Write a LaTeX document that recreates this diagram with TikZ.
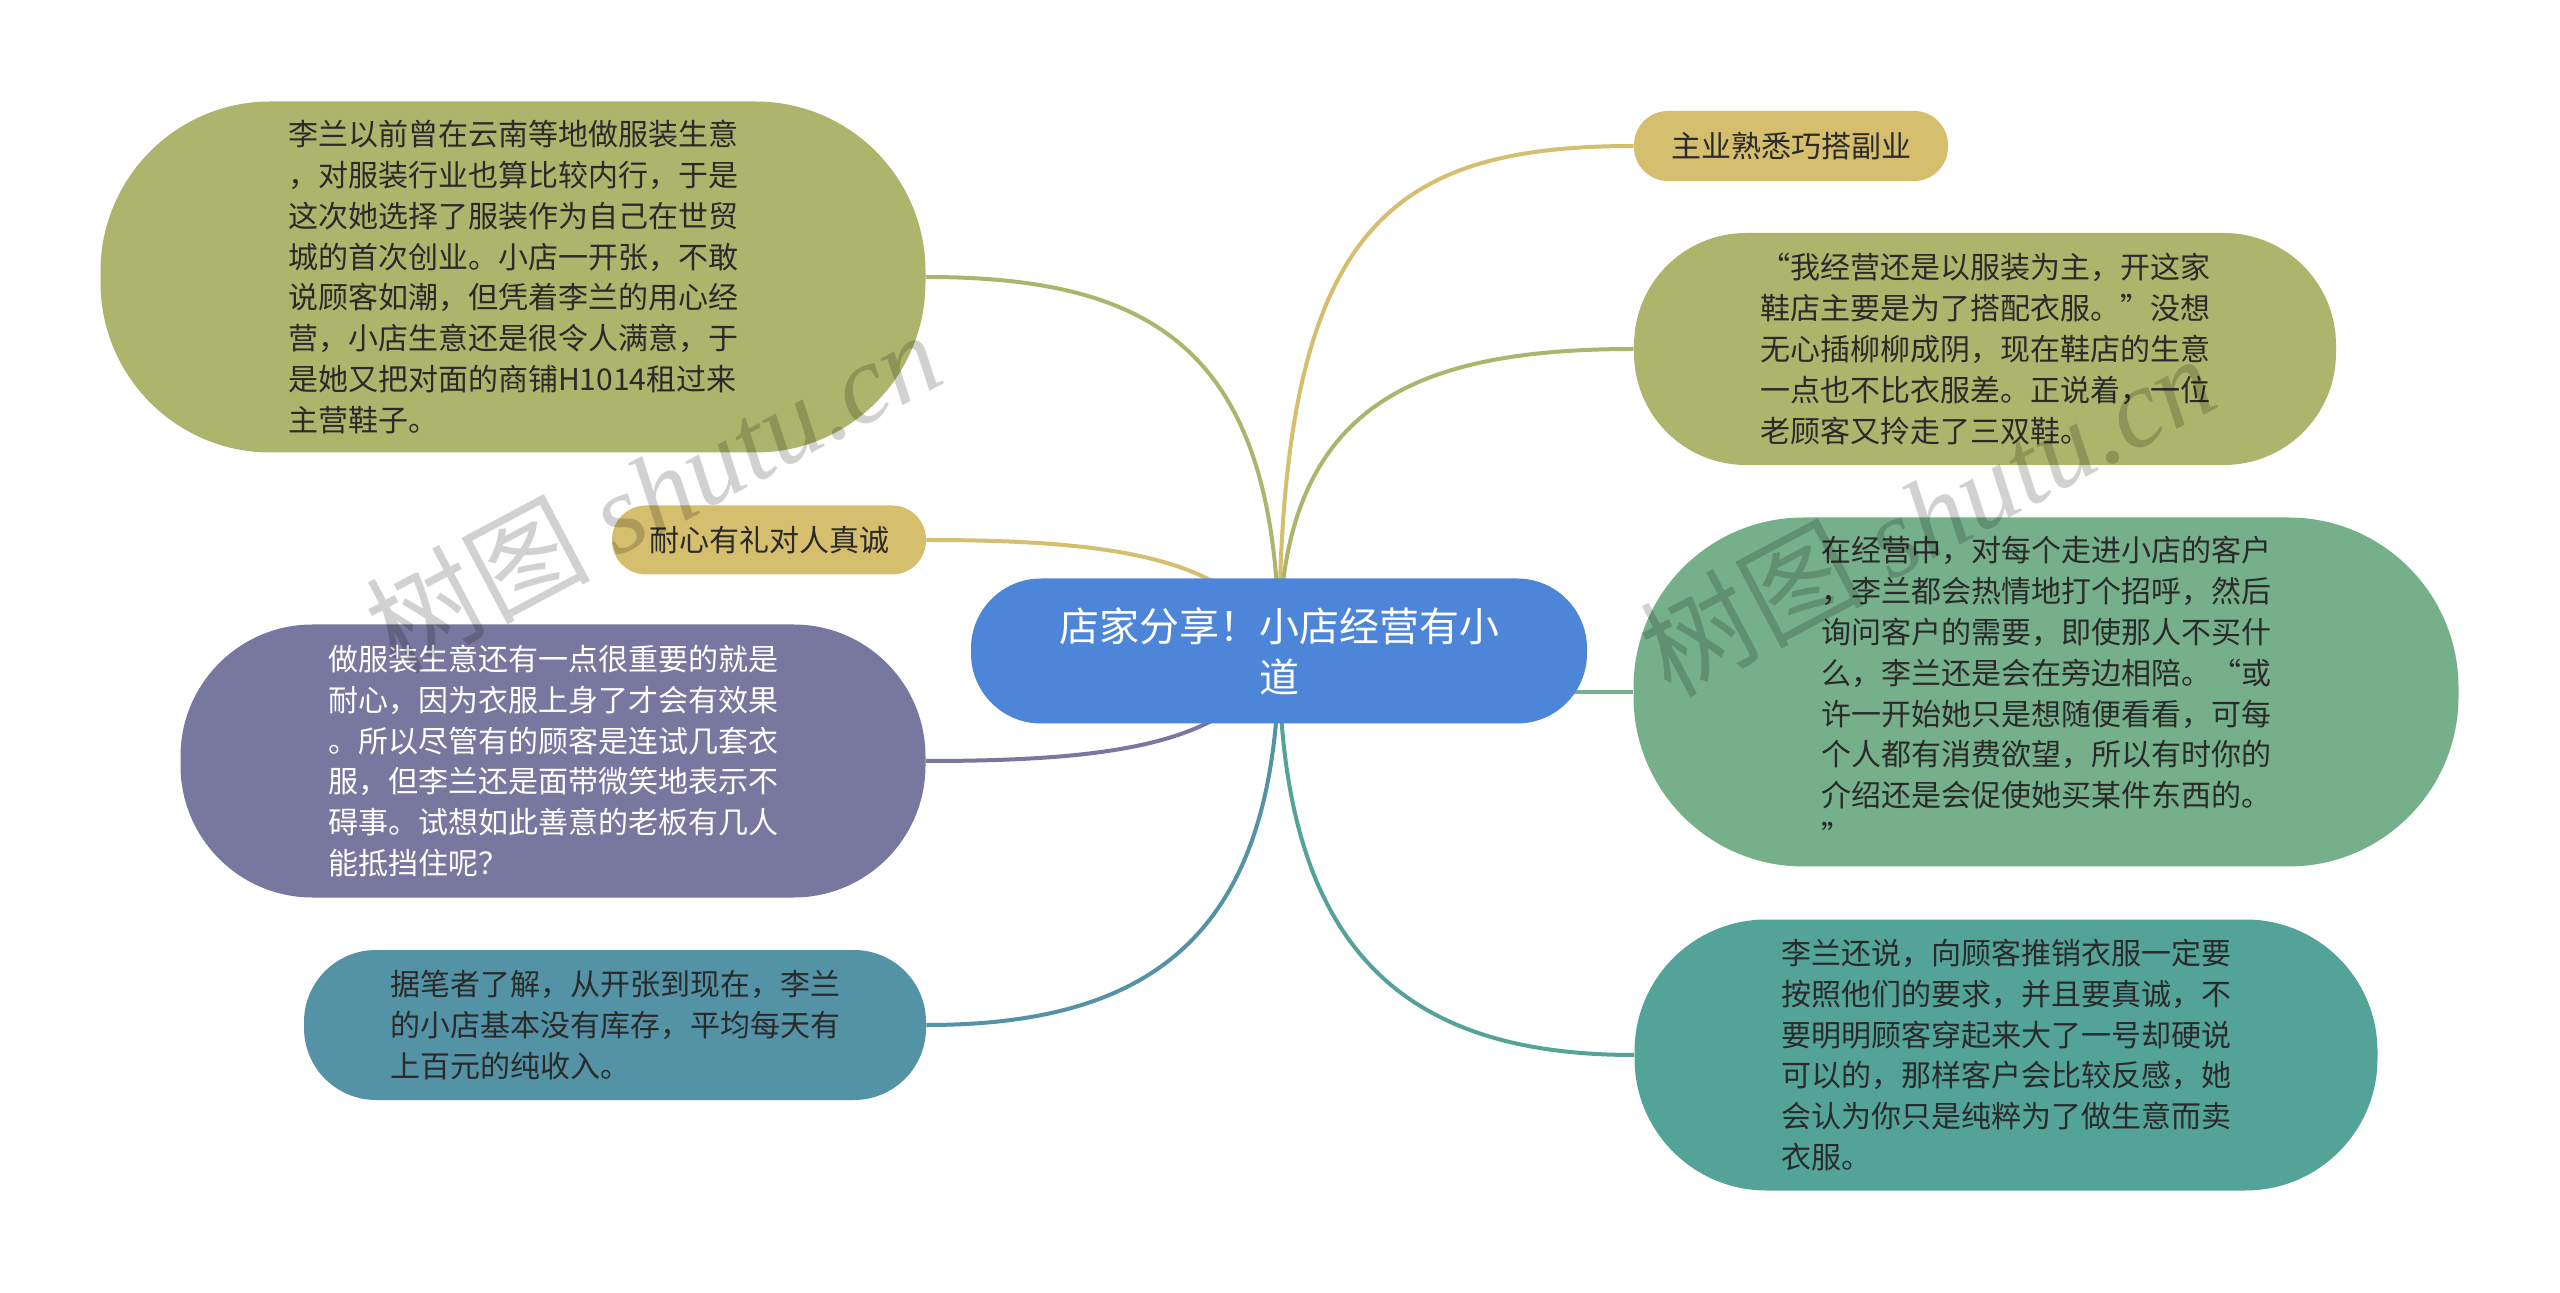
\documentclass[tikz,border=0pt]{standalone}
\usepackage{fontspec}
\setmainfont{Noto Sans CJK SC}
\newfontfamily\wmfont{Liberation Serif}
\usetikzlibrary{backgrounds}
\definecolor{cOlive}{HTML}{ADB56C}
\definecolor{cGold}{HTML}{D5BE6D}
\definecolor{cBlue}{HTML}{4D86D9}
\definecolor{cPurple}{HTML}{78779F}
\definecolor{cSteel}{HTML}{5493A5}
\definecolor{cGreen}{HTML}{76B08A}
\definecolor{cTeal}{HTML}{54A398}
\definecolor{cText}{HTML}{2A2A2A}
\begin{document}
\begin{tikzpicture}[x=0.5pt,y=-0.5pt,
  bubble/.style={draw=none, inner sep=0pt, align=left, text=cText,
    font=\fontsize{15pt}{20.4pt}\selectfont},
  conn/.style={line width=2pt},
  wm/.style={text=black, text opacity=0.18, rotate=28,
    font=\fontsize{56pt}{60pt}\selectfont}]
\useasboundingbox (0,0) rectangle (2560,1293);

% central topic
\node[bubble, fill=cBlue, text=white, align=center,
  font=\fontsize{20pt}{25.5pt}\selectfont,
  minimum width=308pt, minimum height=72.5pt, rounded corners=35pt]
  (c) at (1279,651) {店家分享！小店经营有小\\道};

% left branches
\node[bubble, fill=cOlive, minimum width=412.5pt, minimum height=175.5pt,
  rounded corners=85pt] (A) at (513,277)
  {李兰以前曾在云南等地做服装生意\\，对服装行业也算比较内行，于是\\这次她选择了服装作为自己在世贸\\城的首次创业。小店一开张，不敢\\说顾客如潮，但凭着李兰的用心经\\营，小店生意还是很令人满意，于\\是她又把对面的商铺H1014租过来\\主营鞋子。};

\node[bubble, fill=cGold, minimum width=157pt, minimum height=34.5pt,
  rounded corners=17pt] (D) at (769,540) {耐心有礼对人真诚};

\node[bubble, fill=cPurple, text=white, minimum width=372.5pt,
  minimum height=136.5pt, rounded corners=66pt] (E) at (553,761)
  {做服装生意还有一点很重要的就是\\耐心，因为衣服上身了才会有效果\\。所以尽管有的顾客是连试几套衣\\服，但李兰还是面带微笑地表示不\\碍事。试想如此善意的老板有几人\\能抵挡住呢？};

\node[bubble, fill=cSteel, minimum width=311pt, minimum height=75pt,
  rounded corners=36pt] (F) at (615,1025)
  {据笔者了解，从开张到现在，李兰\\的小店基本没有库存，平均每天有\\上百元的纯收入。};

% right branches
\node[bubble, fill=cGold, minimum width=157pt, minimum height=35pt,
  rounded corners=17pt] (B) at (1791,146) {主业熟悉巧搭副业};

\node[bubble, fill=cOlive, minimum width=351pt, minimum height=116pt,
  rounded corners=56pt] (C) at (1985,349)
  {“我经营还是以服装为主，开这家\\鞋店主要是为了搭配衣服。”没想\\无心插柳柳成阴，现在鞋店的生意\\一点也不比衣服差。正说着，一位\\老顾客又拎走了三双鞋。};

\node[bubble, fill=cGreen, minimum width=412.5pt, minimum height=174.5pt,
  rounded corners=85pt] (G) at (2046,692)
  {在经营中，对每个走进小店的客户\\，李兰都会热情地打个招呼，然后\\询问客户的需要，即使那人不买什\\么，李兰还是会在旁边相陪。“或\\许一开始她只是想随便看看，可每\\个人都有消费欲望，所以有时你的\\介绍还是会促使她买某件东西的。\\”};

\node[bubble, fill=cTeal, minimum width=371.5pt, minimum height=135.5pt,
  rounded corners=66pt] (H) at (2006,1055)
  {李兰还说，向顾客推销衣服一定要\\按照他们的要求，并且要真诚，不\\要明明顾客穿起来大了一号却硬说\\可以的，那样客户会比较反感，她\\会认为你只是纯粹为了做生意而卖\\衣服。};

% connectors (behind the nodes)
\begin{scope}[on background layer]
  \fill[white] (0,0) rectangle (2560,1293);
  \draw[conn, cOlive] (c.center) .. controls +(0,-300) and +(230,0) .. (A.east);
  \draw[conn, cGold] (c.center) .. controls +(-40,-90) and +(200,0) .. (D.east);
  \draw[conn, cPurple] (c.center) .. controls +(-40,90) and +(200,0) .. (E.east);
  \draw[conn, cSteel] (c.center) .. controls +(0,280) and +(230,0) .. (F.east);
  \draw[conn, cGold] (c.center) .. controls +(0,-420) and +(-250,0) .. (B.west);
  \draw[conn, cOlive] (c.center) .. controls +(0,-240) and +(-230,0) .. (C.west);
  \draw[conn, cGreen] (G.west -| c.center) -- (G.west);
  \draw[conn, cTeal] (c.center) .. controls +(0,300) and +(-230,0) .. (H.west);
\end{scope}

% watermark
\node[wm] (w1) at (653,490) {树图 {\wmfont\itshape shutu.cn}};
\node[wm] (w2) at (1927,514) {树图 {\wmfont\itshape shutu.cn}};
\end{tikzpicture}
\end{document}
